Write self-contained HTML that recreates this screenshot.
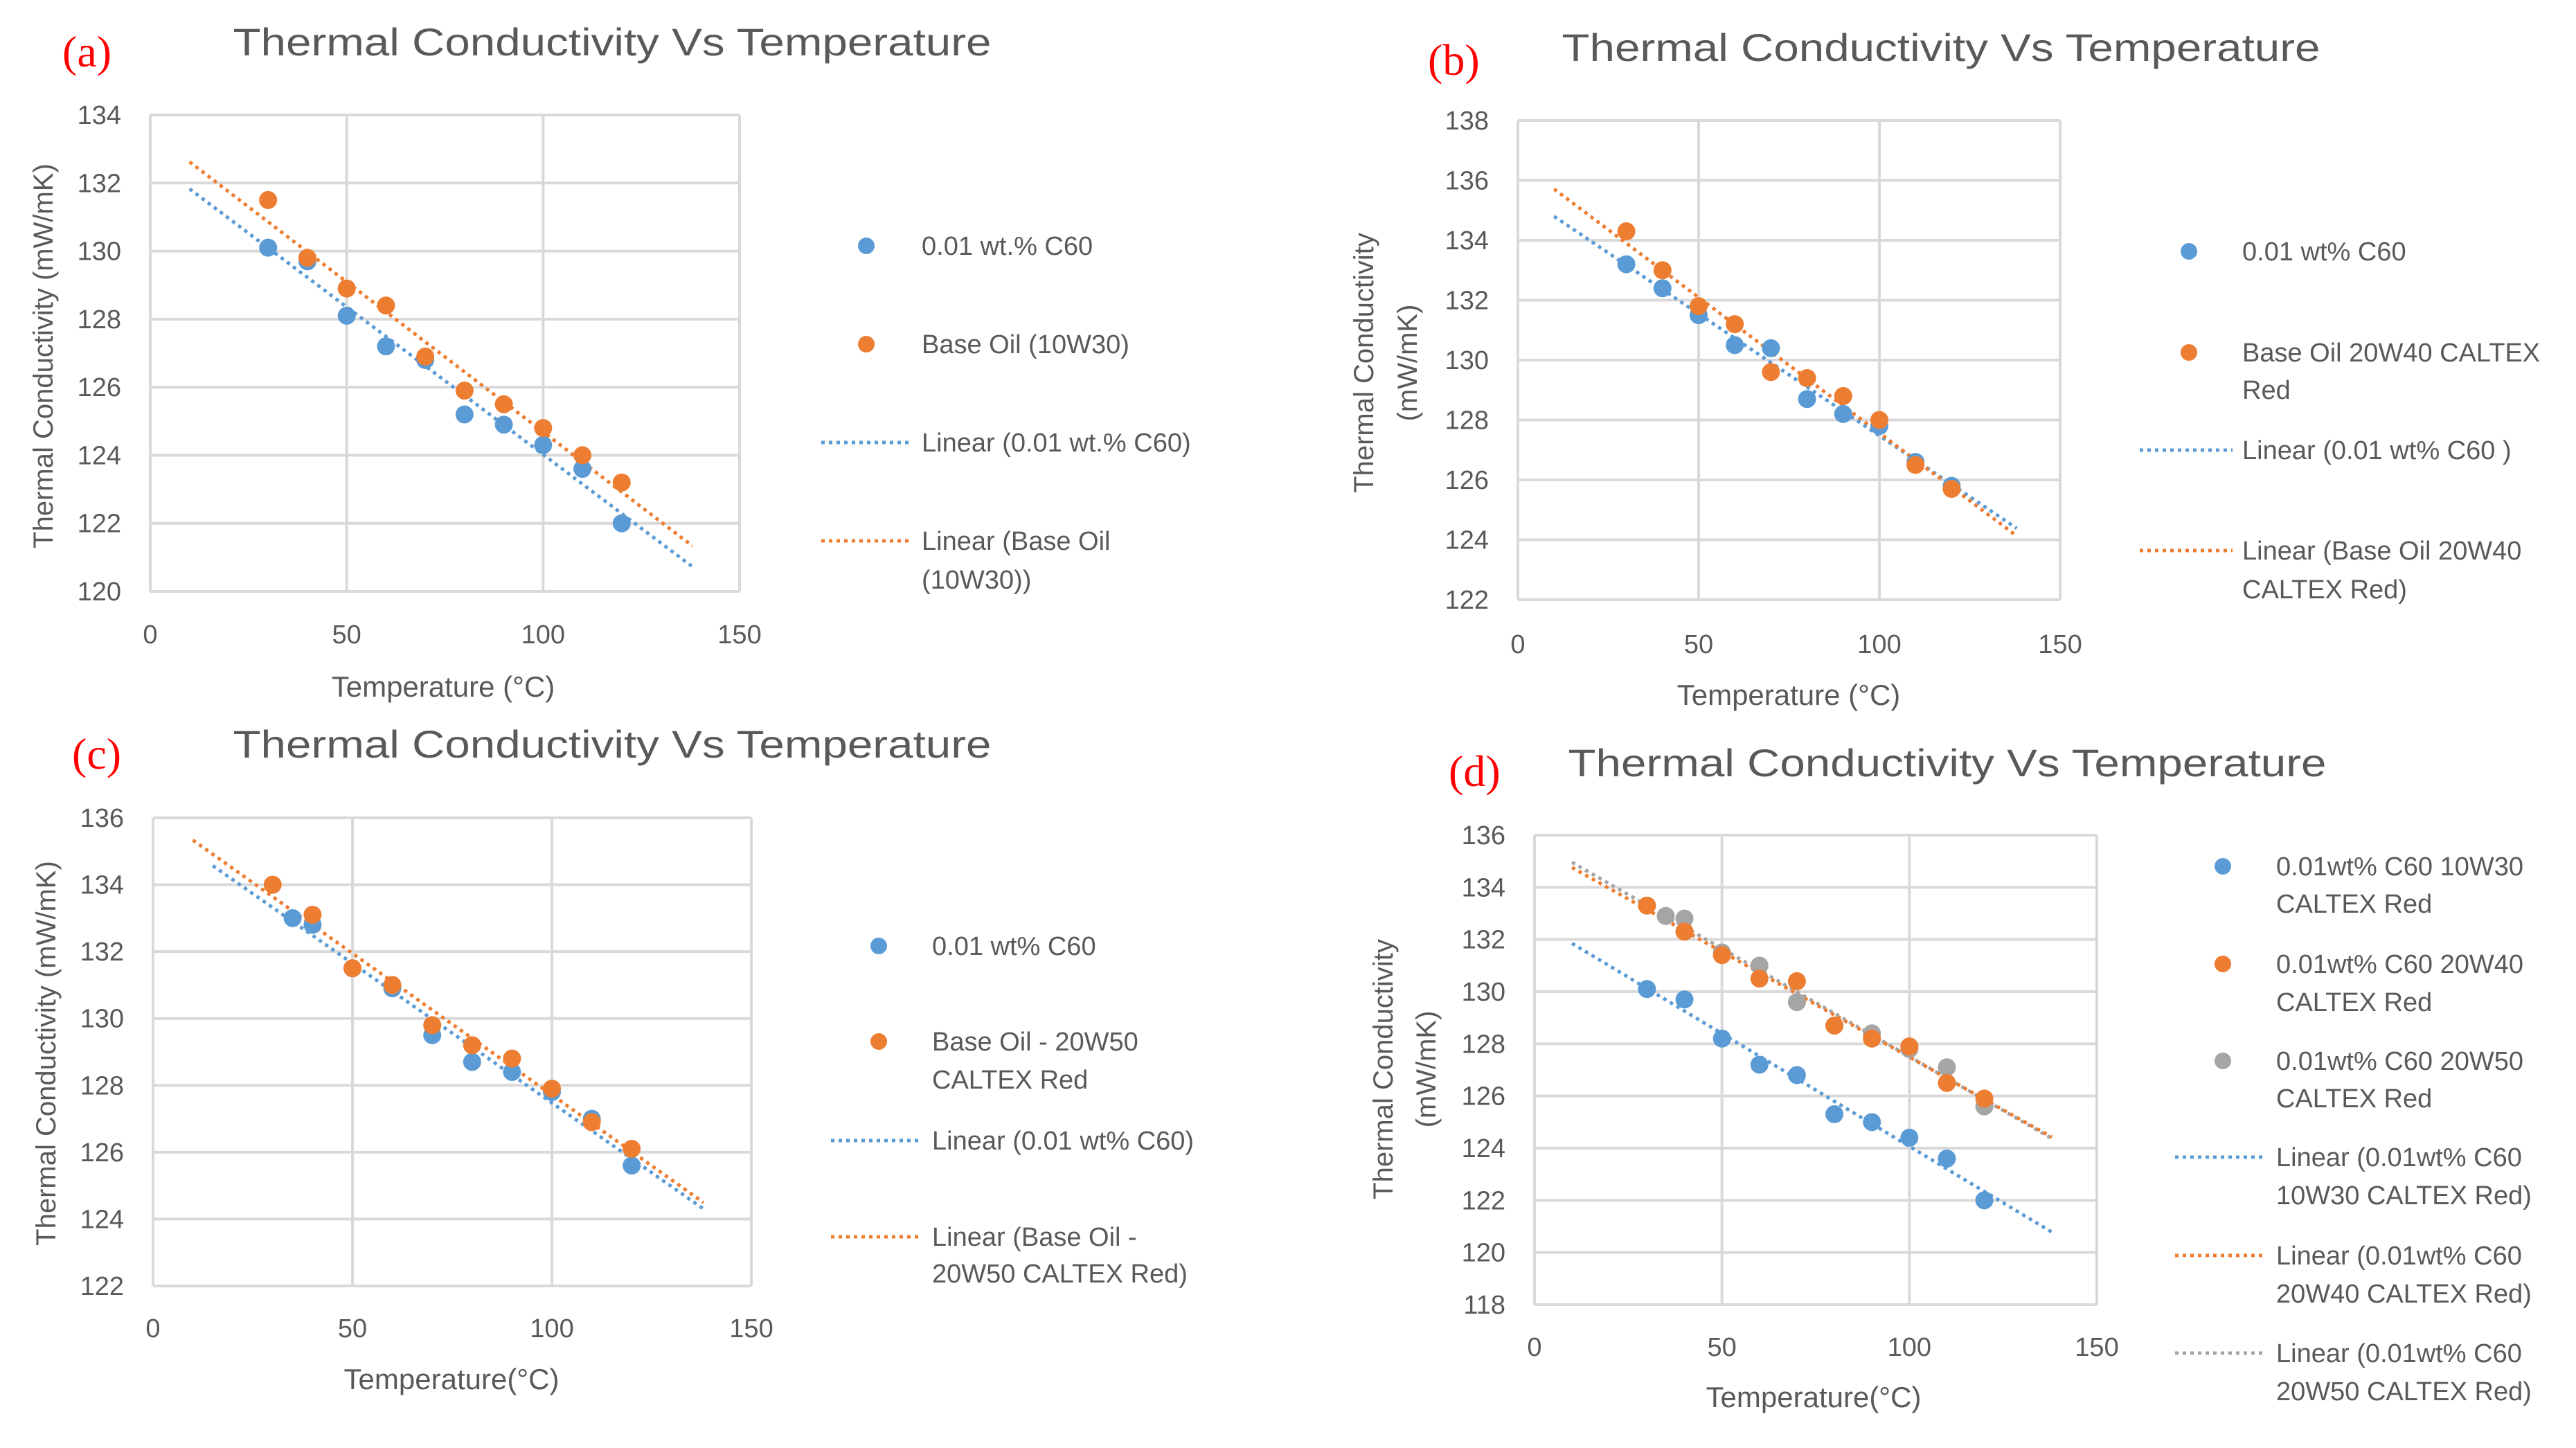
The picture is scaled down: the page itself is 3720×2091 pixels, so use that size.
<!DOCTYPE html>
<html><head><meta charset="utf-8">
<style>html,body{margin:0;padding:0;background:#fff;overflow:hidden}svg{display:block}</style></head>
<body>
<svg id="root" xmlns="http://www.w3.org/2000/svg" width="3720" height="2091" viewBox="0 0 3720 2091" font-family="'Liberation Sans', sans-serif"></svg>
<script>
// ---- data ----
const aBlueX=[30,40,50,60,70,80,90,100,110,120];
const aBlueY=[130.1,129.7,128.1,127.2,126.8,125.2,124.9,124.3,123.6,122.0];
const aOrgX=[30,40,50,60,70,80,90,100,110,120];
const aOrgY=[131.5,129.8,128.9,128.4,126.9,125.9,125.5,124.8,124.0,123.2];
const bBlueX=[30,40,50,60,70,80,90,100,110,120];
const bBlueY=[133.2,132.4,131.5,130.5,130.4,128.7,128.2,127.8,126.6,125.8];
const bOrgX=[30,40,50,60,70,80,90,100,110,120];
const bOrgY=[134.3,133.0,131.8,131.2,129.6,129.4,128.8,128.0,126.5,125.7];
const cBlueX=[35,40,50,60,70,80,90,100,110,120];
const cBlueY=[133.0,132.8,131.5,130.9,129.5,128.7,128.4,127.8,127.0,125.6];
const cOrgX=[30,40,50,60,70,80,90,100,110,120];
const cOrgY=[134.0,133.1,131.5,131.0,129.8,129.2,128.8,127.9,126.9,126.1];
const dBlueX=[30,40,50,60,70,80,90,100,110,120];
const dBlueY=[130.1,129.7,128.2,127.2,126.8,125.3,125.0,124.4,123.6,122.0];
const dOrgX=[30,40,50,60,70,80,90,100,110,120];
const dOrgY=[133.3,132.3,131.4,130.5,130.4,128.7,128.2,127.9,126.5,125.9];
const dGrayX=[35,40,50,60,70,80,90,100,110,120];
const dGrayY=[132.9,132.8,131.5,131.0,129.6,128.7,128.4,127.8,127.1,125.6];
const xTicks=[0,50,100,150];
const aYTicks=[120,122,124,126,128,130,132,134];
const bYTicks=[122,124,126,128,130,132,134,136,138];
const cYTicks=[122,124,126,128,130,132,134,136];
const dYTicks=[118,120,122,124,126,128,130,132,134,136];

const NS='http://www.w3.org/2000/svg';
const root=document.getElementById('root');
const BLUE='#5b9bd5',ORG='#ed7d31',GRAY='#a5a5a5',TXT='#595959';
function mk(tag,attrs,parent){const e=document.createElementNS(NS,tag);for(const k in attrs)e.setAttribute(k,attrs[k]);(parent||root).appendChild(e);return e;}
function txt(s,attrs,parent){const e=mk('text',attrs,parent);e.textContent=s;return e;}
function fit(xs,ys){const n=xs.length;let sx=0,sy=0,sxx=0,sxy=0;for(let i=0;i<n;i++){sx+=xs[i];sy+=ys[i];sxx+=xs[i]*xs[i];sxy+=xs[i]*ys[i];}const m=(n*sxy-sx*sy)/(n*sxx-sx*sx);return [m,(sy-m*sx)/n];}

function panel(P){
  const g=mk('g',{});
  
  
  const ymin=P.yt[0],ymax=P.yt[P.yt.length-1];
  const X=v=>P.L+(v-0)/(150-0)*(P.R-P.L);
  const Y=v=>P.B-(v-ymin)/(ymax-ymin)*(P.B-P.T);
  const lab=txt(P.lab,{x:P.labX,y:P.labY,fill:'#ff0000','font-family':"'Liberation Serif',serif",'font-size':64},g);
  
  
  const t=txt('Thermal Conductivity Vs Temperature',{x:P.tx,y:P.ty,fill:TXT,'font-size':56,'text-anchor':'middle',textLength:1095,lengthAdjust:'spacingAndGlyphs'},g);
  
  
  P.yt.forEach(v=>{
    const l=mk('line',{x1:P.L,x2:P.R,y1:Y(v),y2:Y(v),stroke:'#d9d9d9','stroke-width':4},g);
    
    
    const tl=txt(String(v),{x:P.L-42,y:Y(v)+13,fill:TXT,'font-size':38,'text-anchor':'end'},g);
    
    
  });
  xTicks.forEach(v=>{
    const l=mk('line',{x1:X(v),x2:X(v),y1:P.T,y2:P.B,stroke:'#d9d9d9','stroke-width':4},g);
    
    
    const tl=txt(String(v),{x:X(v),y:P.xty,fill:TXT,'font-size':38,'text-anchor':'middle'},g);
    
    
  });
  const xt=txt(P.xtitle,{x:P.xtx,y:P.xtyy,fill:TXT,'font-size':42,'text-anchor':'middle'},g);
  
  
  P.ytitle.forEach((s,i)=>{
    const a={x:0,y:0,fill:TXT,'font-size':40,'text-anchor':'middle',transform:`translate(${P.ytx[i]},${P.yty}) rotate(-90)`};
    const yt=txt(s,a,g);
    
    
  });
  P.series.forEach(s=>{
    const [m,b]=fit(s.x,s.y);
    const x0=s.t0||10,x1=138;
    const l=mk('line',{x1:X(x0),y1:Y(m*x0+b),x2:X(x1),y2:Y(m*x1+b),stroke:s.c,'stroke-width':5,'stroke-dasharray':'5 6'},g);
    
    
  });
  P.series.forEach(s=>{
    s.x.forEach((xv,i)=>{
      const c=mk('circle',{cx:X(xv),cy:Y(s.y[i]),r:13,fill:s.c},g);
      
      
    });
  });
  P.leg.forEach(e=>{
    const lg=mk('g',{},g);
    
    
    if(e.type==='m'){mk('circle',{cx:P.mx,cy:e.y,r:12,fill:e.c},lg);}
    else{mk('line',{x1:P.lx1,x2:P.lx2,y1:e.y,y2:e.y,stroke:e.c,'stroke-width':5,'stroke-dasharray':'5 6'},lg);}
    e.t.forEach((s,i)=>txt(s,{x:P.tx2,y:e.y+13+i*e.dy,fill:TXT,'font-size':38},lg));
  });
}

panel({id:'a',lab:'(a)',labX:90,labY:96,tx:884,ty:80,L:217,R:1068,T:166,B:854,yt:aYTicks,xty:929,xtitle:'Temperature (°C)',xtx:640,xtyy:1006,ytitle:['Thermal Conductivity (mW/mK)'],ytx:[76],yty:514,
 series:[{x:aBlueX,y:aBlueY,c:BLUE},{x:aOrgX,y:aOrgY,c:ORG}],
 mx:1251,lx1:1186,lx2:1314,tx2:1331,
 leg:[{type:'m',c:BLUE,y:355,t:['0.01 wt.% C60'],dy:0},{type:'m',c:ORG,y:497,t:['Base Oil (10W30)'],dy:0},{type:'l',c:BLUE,y:639,t:['Linear (0.01 wt.% C60)'],dy:0},{type:'l',c:ORG,y:781,t:['Linear (Base Oil','(10W30))'],dy:56}]});

panel({id:'b',lab:'(b)',labX:2062,labY:108,tx:2803,ty:88,L:2192,R:2975,T:174,B:866,yt:bYTicks,xty:943,xtitle:'Temperature (°C)',xtx:2583,xtyy:1018,ytitle:['Thermal Conductivity','(mW/mK)'],ytx:[1983,2046],yty:524,
 series:[{x:bBlueX,y:bBlueY,c:BLUE},{x:bOrgX,y:bOrgY,c:ORG}],
 mx:3161,lx1:3090,lx2:3224,tx2:3238,
 leg:[{type:'m',c:BLUE,y:363,t:['0.01 wt% C60'],dy:0},{type:'m',c:ORG,y:509,t:['Base Oil 20W40 CALTEX','Red'],dy:54},{type:'l',c:BLUE,y:650,t:['Linear (0.01 wt% C60 )'],dy:0},{type:'l',c:ORG,y:795,t:['Linear (Base Oil 20W40','CALTEX Red)'],dy:56}]});

panel({id:'c',lab:'(c)',labX:104,labY:1110,tx:884,ty:1094,L:221,R:1085,T:1181,B:1857,yt:cYTicks,xty:1931,xtitle:'Temperature(°C)',xtx:652,xtyy:2006,ytitle:['Thermal Conductivity (mW/mK)'],ytx:[80],yty:1521,
 series:[{x:cBlueX,y:cBlueY,c:BLUE,t0:15},{x:cOrgX,y:cOrgY,c:ORG}],
 mx:1269,lx1:1200,lx2:1331,tx2:1346,
 leg:[{type:'m',c:BLUE,y:1366,t:['0.01 wt% C60'],dy:0},{type:'m',c:ORG,y:1504,t:['Base Oil - 20W50','CALTEX Red'],dy:55},{type:'l',c:BLUE,y:1647,t:['Linear (0.01 wt% C60)'],dy:0},{type:'l',c:ORG,y:1786,t:['Linear (Base Oil -','20W50 CALTEX Red)'],dy:53}]});

panel({id:'d',lab:'(d)',labX:2092,labY:1135,tx:2812,ty:1121,L:2216,R:3028,T:1206,B:1884,yt:dYTicks,xty:1958,xtitle:'Temperature(°C)',xtx:2619,xtyy:2032,ytitle:['Thermal Conductivity','(mW/mK)'],ytx:[2011,2073],yty:1544,
 series:[{x:dBlueX,y:dBlueY,c:BLUE},{x:dGrayX,y:dGrayY,c:GRAY},{x:dOrgX,y:dOrgY,c:ORG}],
 mx:3210,lx1:3141,lx2:3271,tx2:3287,
 leg:[{type:'m',c:BLUE,y:1251,t:['0.01wt% C60 10W30','CALTEX Red'],dy:54},{type:'m',c:ORG,y:1392,t:['0.01wt% C60 20W40','CALTEX Red'],dy:55},{type:'m',c:GRAY,y:1532,t:['0.01wt% C60 20W50','CALTEX Red'],dy:54},{type:'l',c:BLUE,y:1671,t:['Linear (0.01wt% C60','10W30 CALTEX Red)'],dy:55},{type:'l',c:ORG,y:1813,t:['Linear (0.01wt% C60','20W40 CALTEX Red)'],dy:55},{type:'l',c:GRAY,y:1954,t:['Linear (0.01wt% C60','20W50 CALTEX Red)'],dy:55}]});
</script>
</body></html>
